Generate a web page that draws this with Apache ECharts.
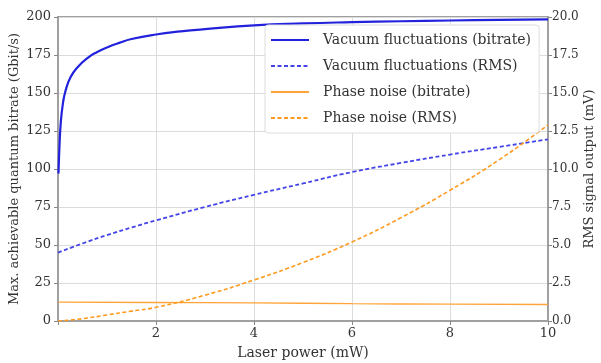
<!DOCTYPE html>
<html>
<head>
<meta charset="utf-8">
<script src="https://cdn.jsdelivr.net/npm/echarts@6/dist/echarts.min.js"></script>
<style>html,body{margin:0;padding:0;background:#fff}#c{width:601px;height:363px}</style>
</head>
<body>
<div id="c"></div>
<script>
// Data
const vacBitX = [0.01, 0.03, 0.06, 0.1, 0.15, 0.25, 0.4, 0.6, 0.8, 1.0, 1.25, 1.5, 2, 2.5, 3, 4, 5, 6, 7, 8, 9, 10];
const vacBitY = [97, 115, 132, 143, 151, 160, 167, 173, 177, 180, 183, 185.5, 188.5, 190.5, 192, 194.5, 195.8, 196.6, 197.2, 197.7, 198.1, 198.5];
const vacRmsX = [0, 0.5, 1, 1.5, 2, 3, 4, 5, 6, 7, 8, 9, 10];
const vacRmsY = [4.5, 5.1, 5.65, 6.15, 6.62, 7.5, 8.3, 9.05, 9.8, 10.4, 10.95, 11.45, 11.95];
const phBitX = [0, 2, 4, 6, 8, 10];
const phBitY = [12.4, 12.2, 11.9, 11.4, 11.1, 10.9];
const phRmsX = [0, 0.5, 1, 1.5, 2, 3, 4, 5, 6, 7, 8, 9, 10];
const phRmsY = [0, 0.15, 0.4, 0.65, 0.9, 1.7, 2.7, 3.85, 5.2, 6.8, 8.6, 10.6, 12.9];
const names = ['Vacuum fluctuations (bitrate)', 'Vacuum fluctuations (RMS)', 'Phase noise (bitrate)', 'Phase noise (RMS)'];
const leftTitle = 'Max. achievable quantum bitrate (Gbit/s)';
const rightTitle = 'RMS signal output (mV)';

const zip = (xs, ys) => xs.map((x, i) => [x, ys[i]]);
const font = 'DejaVu Serif';
const txt = '#333';
const chart = echarts.init(document.getElementById('c'));
chart.setOption({
  animation: false,
  textStyle: {fontFamily: font},
  grid: {left: 58, right: 53, top: 17, bottom: 42, outerBoundsMode: 'none', containLabel: false,
    show: true, borderColor: '#a0a0a0', borderWidth: 2},
  graphic: [{
    type: 'text', x: 15, y: 169, rotation: Math.PI / 2,
    style: {text: leftTitle, fontFamily: font, fontSize: 13, fill: txt, align: 'center', verticalAlign: 'middle'}
  }, {
    type: 'text', x: 590, y: 169, rotation: Math.PI / 2,
    style: {text: rightTitle, fontFamily: font, fontSize: 13, fill: txt, align: 'center', verticalAlign: 'middle'}
  }],
  legend: {
    orient: 'vertical', left: 265, top: 25, data: names,
    itemWidth: 38, itemHeight: 10, itemGap: 12,
    padding: [8, 8, 8, 5],
    itemStyle: {opacity: 0},
    backgroundColor: '#fff', borderColor: '#ddd', borderWidth: 1, borderRadius: 3,
    textStyle: {fontFamily: font, fontSize: 14, color: txt, padding: [0, 0, 0, 9]}
  },
  xAxis: {
    type: 'value', min: 0, max: 10, interval: 2,
    name: 'Laser power (mW)', nameLocation: 'middle', nameGap: 25,
    nameTextStyle: {fontFamily: font, fontSize: 14, color: txt},
    axisLine: {show: true, lineStyle: {color: '#a0a0a0', width: 2}},
    axisTick: {show: true, length: 4, lineStyle: {color: '#888'}},
    axisLabel: {fontFamily: font, fontSize: 13, color: txt, margin: 6,
      formatter: v => v === 0 ? '' : String(v)},
    splitLine: {show: true, lineStyle: {color: '#dcdcdc', width: 1}}
  },
  yAxis: [{
    type: 'value', min: 0, max: 200, interval: 25,
    axisLine: {show: true, lineStyle: {color: '#a0a0a0', width: 2}},
    axisTick: {show: true, length: 4, lineStyle: {color: '#888'}},
    axisLabel: {fontFamily: font, fontSize: 13, color: txt, margin: 7},
    splitLine: {show: true, lineStyle: {color: '#dcdcdc', width: 1}}
  }, {
    type: 'value', min: 0, max: 20, interval: 2.5, position: 'right',
    axisLine: {show: true, lineStyle: {color: '#a0a0a0', width: 2}},
    axisTick: {show: true, length: 4, lineStyle: {color: '#888'}},
    axisLabel: {fontFamily: font, fontSize: 12, color: txt, margin: 4, formatter: v => v.toFixed(1)},
    splitLine: {show: false}
  }],
  series: [{
    name: names[0], type: 'line', yAxisIndex: 0, symbol: 'none', smooth: true,
    data: zip(vacBitX, vacBitY), color: '#2222dd',
    lineStyle: {color: '#2222dd', width: 2.2}
  }, {
    name: names[1], type: 'line', yAxisIndex: 1, symbol: 'none', smooth: true,
    data: zip(vacRmsX, vacRmsY), color: '#4444e8',
    lineStyle: {color: '#4444e8', width: 1.8, type: [4, 2.5]}
  }, {
    name: names[2], type: 'line', yAxisIndex: 0, symbol: 'none', smooth: true,
    data: zip(phBitX, phBitY), color: '#ffa43a',
    lineStyle: {color: '#ffa43a', width: 1.4}
  }, {
    name: names[3], type: 'line', yAxisIndex: 1, symbol: 'none', smooth: true,
    data: zip(phRmsX, phRmsY), color: '#ff9a1f',
    lineStyle: {color: '#ff9a1f', width: 1.6, type: [4, 2.5]}
  }]
});
</script>
</body>
</html>
